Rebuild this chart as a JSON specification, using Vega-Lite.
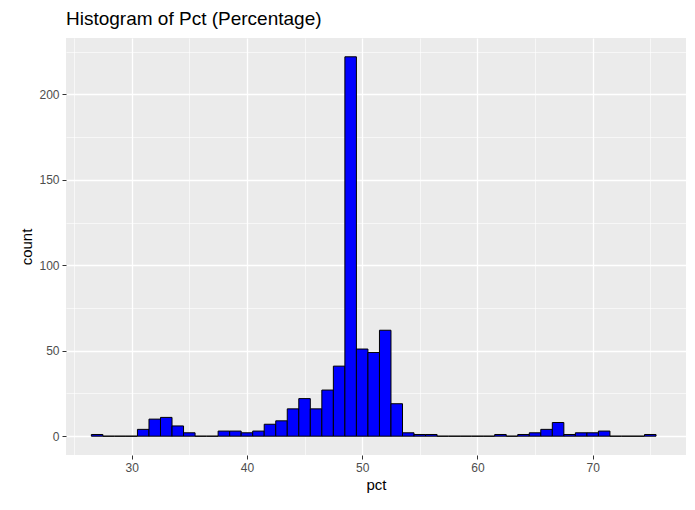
{
"$schema":"https://vega.github.io/schema/vega-lite/v6.json",
"width":620,"height":417,
"autosize":{"type":"none"},
"padding":{"left":66,"top":38,"right":9,"bottom":55},
"background":"white",
"title":{"text":"Histogram of Pct (Percentage)","anchor":"start","frame":"group","fontSize":19,"font":"Liberation Sans","fontWeight":"normal","color":"black","offset":9},
"config":{"view":{"fill":"#EBEBEB","stroke":null},"font":"Liberation Sans"},
"data":{"values":[
{"c":27,"n":1},{"c":28,"n":0},{"c":29,"n":0},{"c":30,"n":0},{"c":31,"n":4},{"c":32,"n":10},{"c":33,"n":11},{"c":34,"n":6},{"c":35,"n":2},{"c":36,"n":0},{"c":37,"n":0},
{"c":38,"n":3},{"c":39,"n":3},{"c":40,"n":2},{"c":41,"n":3},{"c":42,"n":7},{"c":43,"n":9},{"c":44,"n":16},{"c":45,"n":22},{"c":46,"n":16},{"c":47,"n":27},{"c":48,"n":41},{"c":49,"n":222},{"c":50,"n":51},{"c":51,"n":49},{"c":52,"n":62},{"c":53,"n":19},{"c":54,"n":2},{"c":55,"n":1},{"c":56,"n":1},
{"c":57,"n":0},{"c":58,"n":0},{"c":59,"n":0},{"c":60,"n":0},{"c":61,"n":0},{"c":62,"n":1},{"c":63,"n":0},{"c":64,"n":1},{"c":65,"n":2},{"c":66,"n":4},{"c":67,"n":8},{"c":68,"n":1},{"c":69,"n":2},{"c":70,"n":2},{"c":71,"n":3},{"c":72,"n":0},{"c":73,"n":0},{"c":74,"n":0},{"c":75,"n":1}
]},
"transform":[{"calculate":"datum.c-0.5","as":"lo"},{"calculate":"datum.c+0.5","as":"hi"}],
"mark":{"type":"bar","fill":"blue","stroke":"black","strokeWidth":1},
"encoding":{
"x":{"field":"lo","type":"quantitative","title":"pct","scale":{"domain":[24.3,78.1],"nice":false,"zero":false},
 "axis":{"values":[25,30,35,40,45,50,55,60,65,70,75],"labelExpr":"datum.value % 10 === 0 ? datum.label : ''","gridColor":"white","gridWidth":{"condition":{"test":"datum.value % 10 === 0","value":1.3},"value":0.6},"tickColor":{"condition":{"test":"datum.value % 10 === 0","value":"#333333"},"value":"transparent"},"domain":false,"labelColor":"#4D4D4D","labelFontSize":12,"titleFontSize":15,"titleFontWeight":"normal","titleColor":"black","tickSize":4,"labelPadding":3}},
"x2":{"field":"hi"},
"y":{"field":"n","type":"quantitative","title":"count","scale":{"domain":[-11,233],"nice":false,"zero":false},
 "axis":{"values":[0,25,50,75,100,125,150,175,200,225],"labelExpr":"datum.value % 50 === 0 ? datum.label : ''","gridColor":"white","gridWidth":{"condition":{"test":"datum.value % 50 === 0","value":1.3},"value":0.6},"tickColor":{"condition":{"test":"datum.value % 50 === 0","value":"#333333"},"value":"transparent"},"domain":false,"labelColor":"#4D4D4D","labelFontSize":12,"titleFontSize":15,"titleFontWeight":"normal","titleColor":"black","tickSize":4,"labelPadding":3}},
"y2":{"datum":0}
}
}
